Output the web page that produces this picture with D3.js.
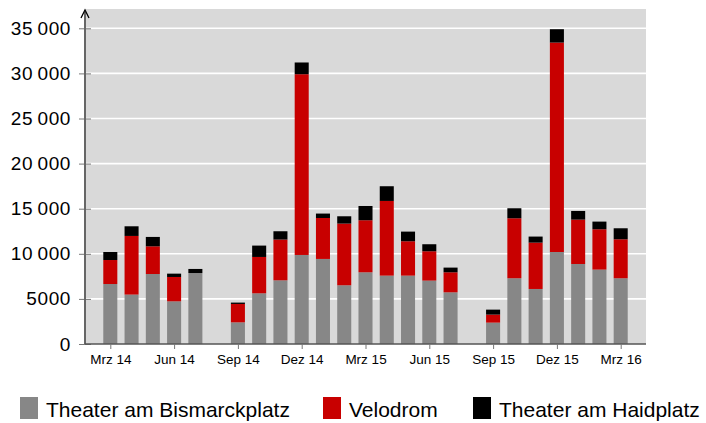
<!DOCTYPE html>
<html>
<head>
<meta charset="utf-8">
<script src="https://cdn.jsdelivr.net/npm/d3@7"></script>
<style>
  body { margin: 0; background: #fff; }
  svg { display: block; font-family: "Liberation Sans", Arial, sans-serif; }
</style>
</head>
<body>
<svg id="chart" width="706" height="423"></svg>
<script>
// months Mrz 14 .. Mrz 16 (Aug has no data)
const months = ["Mrz 14","Apr 14","Mai 14","Jun 14","Jul 14","Aug 14","Sep 14","Okt 14","Nov 14","Dez 14",
  "Jan 15","Feb 15","Mrz 15","Apr 15","Mai 15","Jun 15","Jul 15","Aug 15","Sep 15","Okt 15","Nov 15","Dez 15",
  "Jan 16","Feb 16","Mrz 16"];

const bismarck = [6650,5480,7760,4730,7870,0,2400,5620,7060,9870,9430,6510,7950,7580,7580,7030,5730,0,2370,7290,6100,10200,8870,8250,7290];
const velodrom = [2660,6500,3070,2700,0,0,2040,4030,4520,20040,4540,6840,5770,8280,3810,3250,2220,0,890,6650,5140,23220,4920,4470,4320];
const haidplatz = [890,1070,1040,370,450,0,150,1260,920,1300,490,810,1580,1630,1070,780,520,0,550,1110,670,1480,960,850,1220];

const seriesNames = ["Theater am Bismarckplatz","Velodrom","Theater am Haidplatz"];
const seriesColors = ["#878787","#c80000","#000000"];
const tickMonths = [0,3,6,9,12,15,18,21,24];
const yTicks = [0,5000,10000,15000,20000,25000,30000,35000];

const svg = d3.select("#chart");
const pLeft = 85, pRight = 646, pTop = 9, pBottom = 344;

const x = d3.scaleLinear().domain([-1.19, 25.19]).range([pLeft, pRight]);
const y = d3.scaleLinear().domain([0, 35000]).range([pBottom, pBottom - 315.7]);

const rows = months.map((m, i) => ({ i, m, a: bismarck[i], b: velodrom[i], c: haidplatz[i] }));
const stack = d3.stack().keys(["a","b","c"])(rows);

// background
svg.append("rect")
  .attr("x", pLeft).attr("y", pTop)
  .attr("width", pRight - pLeft).attr("height", pBottom - pTop)
  .attr("fill", "#d9d9d9");

// grid
svg.append("g").selectAll("line")
  .data(yTicks.slice(1))
  .join("line")
  .attr("x1", pLeft).attr("x2", pRight)
  .attr("y1", d => y(d)).attr("y2", d => y(d))
  .attr("stroke", "#fff").attr("stroke-width", 1.6);

// bars
const bw = 0.66;
svg.append("g").selectAll("g")
  .data(stack)
  .join("g")
  .attr("fill", (d, k) => seriesColors[k])
  .selectAll("rect")
  .data(d => d.filter(p => p[1] - p[0] > 0))
  .join("rect")
  .attr("x", d => x(d.data.i - bw / 2))
  .attr("width", x(bw) - x(0))
  .attr("y", d => y(d[1]))
  .attr("height", d => y(d[0]) - y(d[1]));

// y axis
const fmt = v => v >= 10000 ? d3.format(",")(v).replace(",", "\u2009") : String(v);
const yAxis = svg.append("g")
  .attr("transform", `translate(${pLeft},0)`)
  .call(d3.axisLeft(y).tickValues(yTicks).tickSize(6).tickPadding(9).tickFormat(fmt));
yAxis.select(".domain").remove();
yAxis.selectAll(".tick line").attr("stroke", "#777").attr("x2", 6).attr("x1", -6);
yAxis.selectAll(".tick text").attr("font-size", 19).attr("fill", "#000")
  .attr("letter-spacing", 0.6)
  .attr("font-family", "'Liberation Sans', Arial, sans-serif").attr("x", -14);

svg.append("line")
  .attr("x1", pLeft).attr("x2", pLeft)
  .attr("y1", pBottom).attr("y2", 12)
  .attr("stroke", "#666").attr("stroke-width", 2);
svg.append("path")
  .attr("d", `M${pLeft - 4},${18} L${pLeft},${10} L${pLeft + 4},${18}`)
  .attr("fill", "none").attr("stroke", "#000").attr("stroke-width", 1.3);

// x axis
const xAxis = svg.append("g")
  .attr("transform", `translate(0,${pBottom})`)
  .call(d3.axisBottom(x).tickValues(tickMonths).tickSize(5).tickPadding(5).tickFormat(i => months[i]));
xAxis.select(".domain").attr("stroke", "#555").attr("stroke-width", 1.6)
  .attr("d", `M${pLeft},0H${pRight}`);
xAxis.selectAll(".tick line").attr("stroke", "#777");
xAxis.selectAll(".tick text").attr("font-size", 13.5).attr("fill", "#000")
  .attr("font-family", "'Liberation Sans', Arial, sans-serif");

// legend
const legendX = [20, 323, 473];
const lg = svg.append("g").selectAll("g")
  .data(seriesNames)
  .join("g")
  .attr("transform", (d, k) => `translate(${legendX[k]},397)`);
lg.append("rect").attr("width", 18).attr("height", 22).attr("fill", (d, k) => seriesColors[k]);
lg.append("text").attr("x", 26).attr("y", 20).attr("font-size", 21).text(d => d);
</script>
</body>
</html>
